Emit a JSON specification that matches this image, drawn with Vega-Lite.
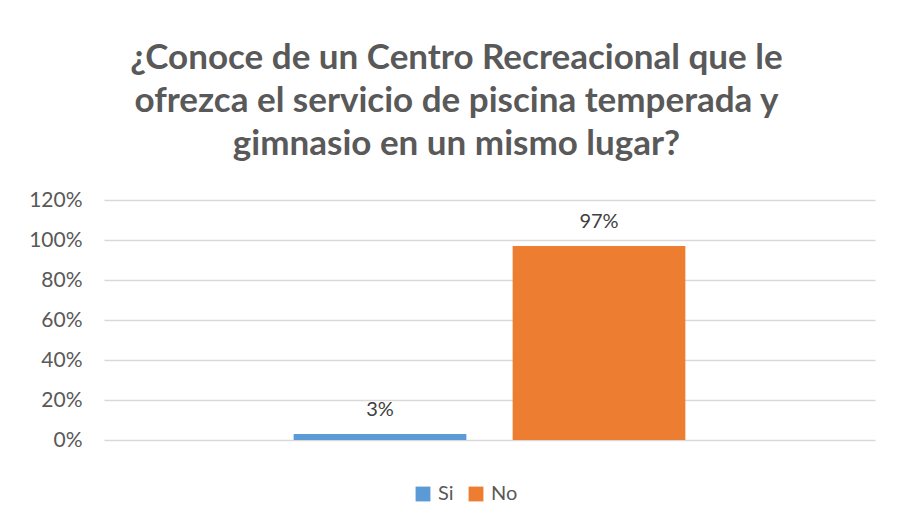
{
  "$schema": "https://vega.github.io/schema/vega-lite/v6.json",
  "autosize": "none",
  "width": 771,
  "height": 240,
  "padding": {"left": 104, "top": 200, "right": 22, "bottom": 82},
  "background": "white",
  "title": {
    "text": ["¿Conoce de un Centro Recreacional que le", "ofrezca el servicio de piscina temperada y", "gimnasio en un mismo lugar?"],
    "font": "Lato",
    "fontSize": 35,
    "fontWeight": "bold",
    "color": "#595959",
    "lineHeight": 43,
    "anchor": "middle",
    "dx": -33,
    "offset": 27
  },
  "data": {
    "values": [
      {"respuesta": "Si", "porcentaje": 0.03},
      {"respuesta": "No", "porcentaje": 0.97}
    ]
  },
  "encoding": {
    "x": {
      "field": "respuesta",
      "type": "nominal",
      "sort": ["Si", "No"],
      "scale": {"paddingInner": 0.2114, "paddingOuter": 0.866},
      "axis": null
    },
    "y": {
      "field": "porcentaje",
      "type": "quantitative",
      "scale": {"domain": [0, 1.2], "nice": false},
      "axis": {
        "values": [0, 0.2, 0.4, 0.6, 0.8, 1.0, 1.2],
        "format": ".0%",
        "title": null,
        "domain": false,
        "ticks": false,
        "grid": true,
        "gridColor": "#D9D9D9",
        "gridWidth": 1.3,
        "labelFont": "Lato",
        "labelFontSize": 21,
        "labelColor": "#595959",
        "labelPadding": 22
      }
    }
  },
  "layer": [
    {
      "mark": {"type": "bar"},
      "encoding": {
        "color": {
          "field": "respuesta",
          "type": "nominal",
          "sort": ["Si", "No"],
          "scale": {"domain": ["Si", "No"], "range": ["#5B9BD5", "#ED7D31"]},
          "legend": {
            "title": null,
            "orient": "none",
            "direction": "horizontal",
            "legendX": 309,
            "legendY": 284,
            "symbolType": "square",
            "symbolSize": 220,
            "symbolStrokeWidth": 0,
            "labelFont": "Lato",
            "labelFontSize": 20,
            "labelColor": "#595959",
            "labelOffset": 5,
            "columnPadding": 12
          }
        }
      }
    },
    {
      "mark": {"type": "text", "baseline": "alphabetic", "dy": -18, "font": "Lato", "fontSize": 20, "color": "#404040"},
      "encoding": {
        "text": {"field": "porcentaje", "type": "quantitative", "format": ".0%"}
      }
    }
  ],
  "config": {"view": {"stroke": null}}
}
